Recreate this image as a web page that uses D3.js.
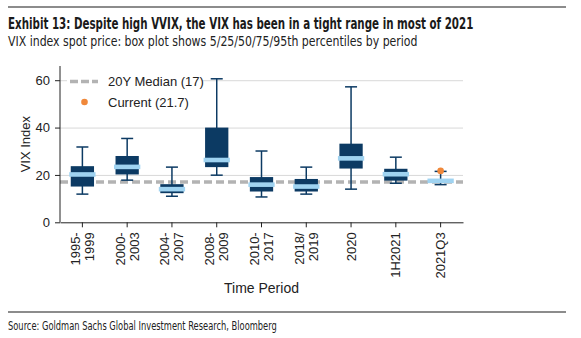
<!DOCTYPE html>
<html>
<head>
<meta charset="UTF-8"/>
<script src="https://d3js.org/d3.v7.min.js"></script>
<title>VIX box plot</title>
<style>
body{ margin:0; background:#fff; }
svg{ font-family:"Liberation Sans", Arial, sans-serif; }
.narrow{ font-family:"Liberation Sans Narrow", "DejaVu Sans Condensed", sans-serif; font-stretch:condensed; }
.grid line{ stroke:#d9d9d9; }
.grid path{ display:none; }
.axis text{ fill:#222; font-size:13px; }
.axis path, .axis line{ stroke:#222; }
</style>
</head>
<body>
<svg id="chart" width="581" height="338"></svg>
<script>
'use strict';

// periods and their 5/25/50/75/95th percentiles
var periods = ['1995-1999','2000-2003','2004-2007','2008-2009','2010-2017','2018/2019','2020','1H2021','2021Q3'];
var tickLines = [['1995-','1999'],['2000-','2003'],['2004-','2007'],['2008-','2009'],['2010-','2017'],['2018/','2019'],['2020'],['1H2021'],['2021Q3']];
var p5  = [11.9, 17.8, 11.0, 19.9, 10.7, 11.9, 14.0, 16.5, 15.9];
var p25 = [15.1, 20.2, 12.3, 23.3, 13.0, 13.0, 22.7, 17.6, 16.6];
var p50 = [20.2, 23.4, 14.0, 26.3, 15.9, 15.1, 27.0, 20.3, 17.5];
var p75 = [23.7, 28.0, 16.1, 40.0, 19.1, 18.3, 33.2, 22.6, 18.1];
var p95 = [31.8, 35.4, 23.3, 60.6, 30.1, 23.3, 57.2, 27.5, 21.5];
var yTicks = [0, 20, 40, 60];
var median20y = 17;
var current = 21.7;

var navy = '#0c3a63', light = '#9fd3f1', orange = '#f0883a', dash = '#b3b3b3';

var svg = d3.select('#chart');

var plotLeft = 60, plotRight = 463, plotTop = 66, plotBottom = 222.3;

var x = d3.scaleBand().domain(periods).range([plotLeft, plotRight]);
var y = d3.scaleLinear().domain([0, 66]).range([plotBottom, plotTop]);

// squeeze a text horizontally so it spans the given width
function fitWidth(sel, w){
    var len = sel.node().getComputedTextLength();
    var x0 = +sel.attr('x');
    sel.attr('transform', 'translate(' + x0 + ',0) scale(' + (w / len).toFixed(4) + ',1) translate(' + (-x0) + ',0)');
}

// header
svg.append('line').attr('x1', 8).attr('x2', 566).attr('y1', 7).attr('y2', 7)
    .attr('stroke', '#666').attr('stroke-width', 1.3);
svg.append('text').attr('class', 'narrow').attr('x', 8).attr('y', 29)
    .attr('font-size', 15).attr('font-weight', 'bold').attr('fill', '#1a1a1a')
    .text('Exhibit 13: Despite high VVIX, the VIX has been in a tight range in most of 2021')
    .call(fitWidth, 466);
svg.append('text').attr('class', 'narrow').attr('x', 8).attr('y', 46)
    .attr('font-size', 14.5).attr('fill', '#222')
    .text('VIX index spot price: box plot shows 5/25/50/75/95th percentiles by period')
    .call(fitWidth, 410);

// gridlines
svg.append('g').attr('class', 'grid')
    .attr('transform', 'translate(' + plotLeft + ',0)')
    .call(d3.axisRight(y).tickValues(yTicks.slice(1)).tickSize(plotRight - plotLeft).tickFormat(''));

// legend background hides the 60 gridline behind it
svg.append('rect').attr('x', 67).attr('y', 72).attr('width', 135).attr('height', 38).attr('fill', '#fff');

// 20y median
svg.append('line').attr('x1', plotLeft).attr('x2', plotRight)
    .attr('y1', y(median20y)).attr('y2', y(median20y))
    .attr('stroke', dash).attr('stroke-width', 3.5).attr('stroke-dasharray', '8,4');

// boxes
var bw = x.bandwidth() * 0.52, cw = 12;
var g = svg.append('g').selectAll('g').data(periods).enter().append('g')
    .attr('transform', function(d){ return 'translate(' + (x(d) + x.bandwidth() / 2) + ',0)'; });

g.append('line').attr('x1', 0).attr('x2', 0)
    .attr('y1', function(d, i){ return y(p95[i]); }).attr('y2', function(d, i){ return y(p5[i]); })
    .attr('stroke', navy).attr('stroke-width', 1.5);
g.append('line').attr('x1', -cw / 2).attr('x2', cw / 2)
    .attr('y1', function(d, i){ return y(p95[i]); }).attr('y2', function(d, i){ return y(p95[i]); })
    .attr('stroke', navy).attr('stroke-width', 1.5);
g.append('line').attr('x1', -cw / 2).attr('x2', cw / 2)
    .attr('y1', function(d, i){ return y(p5[i]); }).attr('y2', function(d, i){ return y(p5[i]); })
    .attr('stroke', navy).attr('stroke-width', 1.5);
g.append('rect').attr('x', -bw / 2).attr('width', bw)
    .attr('y', function(d, i){ return y(p75[i]); })
    .attr('height', function(d, i){ return y(p25[i]) - y(p75[i]); })
    .attr('fill', navy);
g.append('rect').attr('x', -bw / 2 - 1.5).attr('width', bw + 3)
    .attr('y', function(d, i){ return y(p50[i]) - 2.3; })
    .attr('height', 4.6).attr('fill', light);

// current level
svg.append('circle').attr('cx', x('2021Q3') + x.bandwidth() / 2).attr('cy', y(current))
    .attr('r', 3.3).attr('fill', orange);

// axes
var yAxis = svg.append('g').attr('class', 'axis')
    .attr('transform', 'translate(' + plotLeft + ',0)')
    .call(d3.axisLeft(y).tickValues(yTicks).tickSize(5).tickPadding(5).tickSizeOuter(0));
yAxis.select('.domain').attr('d', 'M0,' + plotTop + 'V' + plotBottom);

var xAxis = svg.append('g').attr('class', 'axis')
    .attr('transform', 'translate(0,' + plotBottom + ')')
    .call(d3.axisBottom(x).tickSize(5).tickSizeOuter(0).tickFormat(''));

xAxis.selectAll('.tick').each(function(d, i){
    var lines = tickLines[i];
    var t = d3.select(this).append('text')
        .attr('transform', 'rotate(-90)')
        .attr('text-anchor', 'end')
        .attr('fill', '#222').attr('font-size', 13);
    lines.forEach(function(s, k){
        t.append('tspan').attr('x', -10)
            .attr('y', (k - (lines.length - 1) / 2) * 14 + 4.5)
            .text(s);
    });
});

svg.append('text').attr('x', (plotLeft + plotRight) / 2).attr('y', 293)
    .attr('text-anchor', 'middle').attr('font-size', 14).attr('fill', '#222')
    .text('Time Period');
svg.append('text').attr('transform', 'translate(30,' + ((plotTop + plotBottom) / 2) + ') rotate(-90)')
    .attr('text-anchor', 'middle').attr('font-size', 13).attr('fill', '#222')
    .text('VIX Index');

// legend
svg.append('line').attr('x1', 70).attr('x2', 98).attr('y1', 81.5).attr('y2', 81.5)
    .attr('stroke', dash).attr('stroke-width', 3.5).attr('stroke-dasharray', '8,3');
svg.append('text').attr('x', 108).attr('y', 86).attr('font-size', 13).attr('fill', '#222')
    .text('20Y Median (17)');
svg.append('circle').attr('cx', 84.5).attr('cy', 102).attr('r', 3.3).attr('fill', orange);
svg.append('text').attr('x', 108).attr('y', 106.5).attr('font-size', 13).attr('fill', '#222')
    .text('Current (21.7)');

// footer
svg.append('line').attr('x1', 8).attr('x2', 566).attr('y1', 312).attr('y2', 312)
    .attr('stroke', '#666').attr('stroke-width', 1.3);
svg.append('text').attr('class', 'narrow').attr('x', 8).attr('y', 330)
    .attr('font-size', 12.5).attr('fill', '#222')
    .text('Source: Goldman Sachs Global Investment Research, Bloomberg')
    .call(fitWidth, 269);
</script>
</body>
</html>
